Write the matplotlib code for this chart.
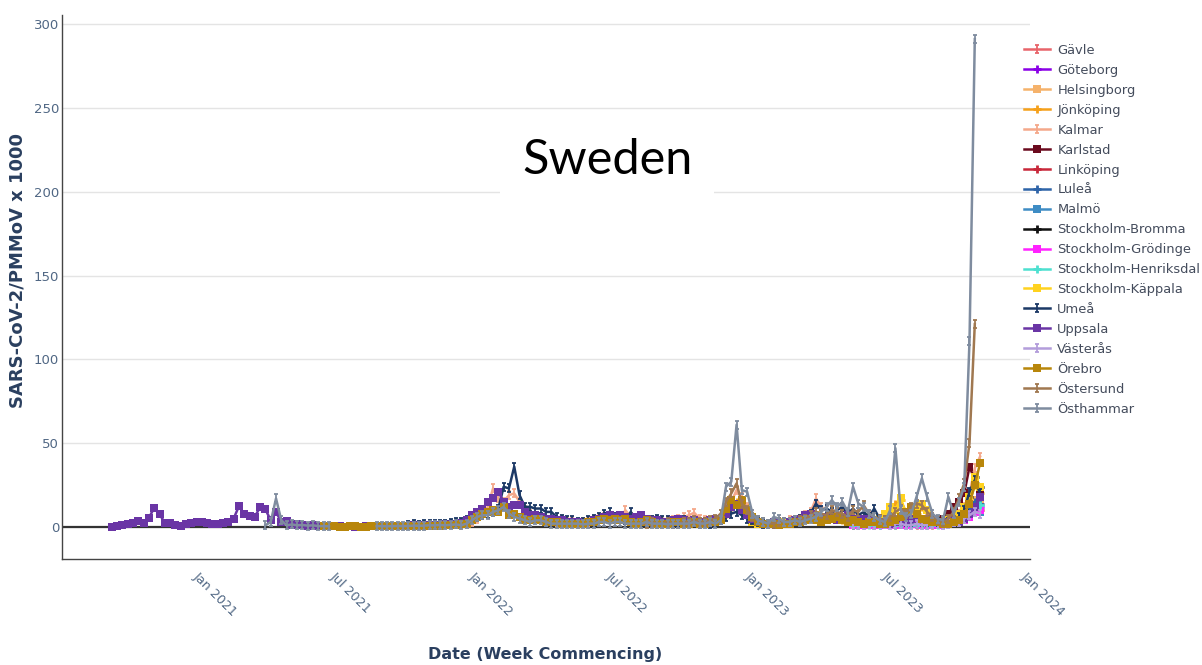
import numpy as np
import pandas as pd
import matplotlib
matplotlib.use('Agg')
import matplotlib.pyplot as plt
import matplotlib.dates as mdates
from matplotlib.path import Path

plt.rcParams['font.family'] = ['DejaVu Sans']

START = pd.Timestamp('2020-09-07')   # week index 0

# ---------------- data (weekly values, week index = weeks after START) -------------
gavle_start = 140
gavle = [2, 3, 2, 2, 3, 2, 3, 3, 2, 3, 4, 3, 2, 3, 2, 2, 3, 3, 4, 5, 6, 8, 10, 12, 11]

goteborg_start = 140
goteborg = [1, 2, 1, 2, 2, 1, 2, 2, 3, 2, 2, 3, 2, 2, 1, 2, 2, 3, 3, 4, 5, 6, 9, 14, 12]

helsingborg_start = 140
helsingborg = [2, 2, 3, 3, 2, 3, 2, 3, 3, 4, 3, 3, 2, 2, 3, 3, 2, 3, 4, 4, 6, 8, 11, 16, 13]

jonkoping_start = 110
jonkoping = [3, 3, 4, 3, 4, 5, 8, 12, 15, 14, 12, 6, 3, 2, 2, 2, 3, 3, 3, 4, 5, 5, 6, 5, 4,
             5, 6, 5, 4, 5, 3, 3, 3, 4, 4, 5, 7, 10, 14, 16, 9, 6, 8, 12, 10, 6, 4, 3, 4, 5,
             7, 10, 15, 25, 20]

kalmar_start = 66
kalmar = [1, 2, 3, 5, 8, 12, 23, 17, 15, 19, 20, 15, 10, 8, 6, 5, 4, 4, 3, 3, 3,
          3, 2, 3, 3, 4, 5, 6, 5, 6, 5, 10, 6, 5, 4, 3, 4, 3, 3, 4, 4, 5, 6, 7, 8.5,
          5, 4, 3, 3, 4, 10, 15, 22, 18, 12,
          8, 4, 3, 2, 2, 3, 3, 4, 4, 5, 7, 9, 17, 12, 10, 8, 9, 7, 6, 8, 5, 6, 7, 6, 4,
          3, 3, 4, 5, 6, 4, 3, 4, 5, 3, 2, 3, 4, 5, 8, 12, 20, 35, 42]

karlstad_start = 140
karlstad = [2, 2, 3, 2, 3, 2, 3, 3, 4, 3, 4, 5, 4, 3, 3, 2, 3, 5, 8, 12, 15, 20, 36, 28, 22]

linkoping_start = 140
linkoping = [1, 1, 2, 2, 1, 2, 2, 2, 1, 2, 2, 2, 1, 2, 2, 1, 2, 2, 3, 4, 5, 7, 9, 12, 10]

lulea_start = 140
lulea = [2, 1, 2, 2, 2, 3, 2, 2, 3, 2, 3, 2, 2, 2, 3, 2, 2, 3, 3, 5, 7, 9, 12, 15, 14]

malmo_start = 140
malmo = [1, 2, 2, 1, 2, 2, 1, 2, 2, 2, 1, 2, 2, 1, 2, 2, 2, 3, 3, 3, 4, 6, 8, 10, 9]

bromma_start = 140
bromma = [2, 2, 2, 3, 2, 2, 3, 2, 3, 3, 2, 3, 3, 2, 2, 3, 2, 2, 3, 4, 6, 10, 18, 30, 24]

grodinge_start = 140
grodinge = [1, 1, 1, 2, 1, 1, 2, 1, 2, 1, 1, 2, 2, 1, 1, 1, 1, 2, 2, 3, 3, 4, 6, 9, 10]

henriksdal_start = 140
henriksdal = [1, 1, 2, 1, 2, 1, 2, 2, 1, 2, 2, 1, 2, 1, 1, 2, 1, 2, 2, 3, 4, 5, 8, 12, 13]

kappala_start = 121
kappala = [3, 2, 2, 2, 2, 3, 3, 3, 4, 5, 5, 6, 7, 6, 5, 6, 5, 6, 4, 5, 4, 3, 3, 4, 5,
           8, 12, 10, 17, 8, 6, 12, 14, 10, 5, 3, 3, 4, 5, 8, 12, 18, 30, 24]

umea_start = 56
umea = [1, 1.5, 1, 2, 1.5, 2, 1.5, 2, 2.5, 3,
        3, 4, 5, 6, 7, 8, 9, 11, 24, 23, 36, 19, 12, 12, 11, 11, 9, 9, 6, 5, 4,
        4, 3, 3, 4, 5, 6, 8, 9, 6, 5, 4, 9, 5, 3, 3, 4, 5, 4, 4, 3, 3, 4, 3, 3, 2,
        3, 2, 3, 4, 6, 8, 9, 7, 5,
        4, 3, 2, 2, 2, 3, 3, 3, 4, 5, 6, 8, 14, 10, 11, 9, 10, 12, 8, 11, 7, 9, 6, 11,
        5, 4, 3, 2, 2, 3, 3, 2, 3, 3, 4, 3, 2, 3, 4, 6, 10, 21, 28, 20]

uppsala_start = 0
uppsala = [0.2, 0.6, 1.0, 1.6, 2.2, 3.4, 2.5, 5.5, 11.5, 7.5, 2.6, 2.4, 1.2, 0.8, 1.5,
           2.2, 2.8, 3.0, 2.2, 2.0, 1.6, 2.2, 3.2, 5.0, 12.5, 7.5, 6.8, 6.0, 12.0, 10.5,
           4.0, 9.0, 3.0, 3.5, 1.0,
           1.5, 1.0, 0.5, 1.2, 0.8, 0.5, 0.4, 0.3, 0.3, 0.2, 0.3, 0.2, 0.2, 0.3, 0.4,
           0.3, 0.5, 0.4, 0.6, 0.5, 0.7, 0.8, 1.0, 0.9, 1.2, 1.0, 1.4, 1.2, 1.5, 1.8, 2.0,
           2.5, 4, 7, 9, 11, 15, 17, 21, 15, 12, 13, 13, 9, 7, 7, 6, 5, 5, 4, 4, 3,
           3, 3, 2.5, 3, 4, 5, 6, 7, 6, 7, 6, 5, 6, 7, 5, 4, 4, 3, 3, 4, 5, 4, 3, 4, 3,
           3, 4, 5, 5, 8, 12, 14, 10, 7,
           5, 3, 2, 2, 3, 2, 2, 3, 4, 5, 7, 8, 6, 5, 6, 5, 4, 6, 7, 5, 4, 5, 4, 3, 3,
           2, 2, 3, 4, 3, 5, 6, 4, 5, 4, 3, 2, 3, 4, 3, 5, 8, 12, 18]

vasteras_start = 140
vasteras = [2, 1, 1, 2, 1, 2, 2, 1, 2, 2, 1, 1, 2, 1, 1, 2, 2, 1, 2, 3, 3, 5, 7, 9, 8]

orebro_start = 40
orebro = [0.3, 0.3, 0.3, 0.2, 0.2, 0.3, 0.3, 0.2, 0.2, 0.3, 0.3, 0.4, 0.3, 0.3, 0.4,
          0.5, 0.5, 0.4, 0.6, 0.5, 0.6, 0.8, 0.7, 0.9, 1.0, 1.2,
          1.5, 2, 4, 6, 8, 9, 10, 9, 12, 7, 8, 6, 4, 4, 5, 4, 3, 3, 3, 2, 2,
          2, 2, 2, 3, 3, 4, 5, 4, 5, 4, 5, 3, 2, 3, 4, 3, 2, 2, 2, 3, 3, 2, 2, 3, 2,
          2, 3, 3, 4, 11, 16, 13, 16, 10,
          6, 3, 2, 2, 2, 1, 2, 2, 3, 3, 4, 5, 4, 3, 4, 5, 6, 4, 3, 4, 3, 2, 3, 3, 2,
          2, 3, 4, 6, 9, 12, 8, 5, 4, 3, 3, 2, 2, 3, 4, 8, 14, 25, 38]

ostersund_start = 100
ostersund = [2, 2, 3, 2, 2, 3, 2, 2, 3, 3, 4, 3, 3, 4, 5, 8, 15, 20, 26, 14, 10,
             6, 4, 3, 2, 2, 3, 3, 3, 4, 4, 5, 7, 9, 8, 7, 10, 9, 8, 6, 10, 9, 13, 8, 6,
             5, 4, 6, 9, 11, 8, 12, 14, 13, 9, 6, 4, 3, 5, 9, 17, 26, 50, 121]

osthammar_start = 29
osthammar = [1, 3, 17, 4, 1, 1.5, 1, 1.2, 0.8, 1, 0.5, 0.5, 0.4,
             None, None, None, None, None, None, None, None,
             0.5, 0.5, 0.4, 0.5, 0.6, 0.5, 0.6, 0.8, 0.7, 0.8, 1.0, 1.0, 1.2, 1.0, 1.3, 1.5,
             1, 2, 4, 6, 7, 7, 9, 10, 12, 8, 6, 5, 4, 3, 4, 4, 3, 2, 2, 2, 2,
             2, 2, 1.5, 2, 2, 3, 3, 2, 3, 3, 2, 2, 2, 2, 3, 2, 2, 2, 1.5, 2, 2, 2, 2, 3,
             2, 2, 3, 2, 4, 24, 27, 61, 22, 21,
             8, 4, 3, 2, 6, 5, 3, 3, 4, 3, 4, 5, 6, 9, 12, 16, 12, 15, 9, 24, 14, 12, 8,
             6, 4, 3, 10, 47, 10, 6, 8, 18, 29, 18, 8, 5, 4, 18, 8, 15, 24, 111, 291]

# ---------------- styling -------------------------------------------------------------
ibeam = Path([(-0.6, 1), (0.6, 1), (0, 1), (0, -1), (-0.6, -1), (0.6, -1)],
             [Path.MOVETO, Path.LINETO, Path.MOVETO, Path.LINETO, Path.MOVETO, Path.LINETO])

series = [
    ("Gävle", gavle_start, gavle, "#E8646A", "I"),
    ("Göteborg", goteborg_start, goteborg, "#8A00E6", "+"),
    ("Helsingborg", helsingborg_start, helsingborg, "#F5B26B", "s"),
    ("Jönköping", jonkoping_start, jonkoping, "#F5A01A", "+"),
    ("Kalmar", kalmar_start, kalmar, "#F4A88A", "I"),
    ("Karlstad", karlstad_start, karlstad, "#6B0A1E", "s"),
    ("Linköping", linkoping_start, linkoping, "#C8283A", "+"),
    ("Luleå", lulea_start, lulea, "#2E64A8", "+"),
    ("Malmö", malmo_start, malmo, "#3E8CC4", "s"),
    ("Stockholm-Bromma", bromma_start, bromma, "#111111", "+"),
    ("Stockholm-Grödinge", grodinge_start, grodinge, "#FF22FF", "s"),
    ("Stockholm-Henriksdal", henriksdal_start, henriksdal, "#4DE0D0", "+"),
    ("Stockholm-Käppala", kappala_start, kappala, "#FFD21F", "s"),
    ("Umeå", umea_start, umea, "#1C3966", "I"),
    ("Uppsala", uppsala_start, uppsala, "#6A35A5", "s"),
    ("Västerås", vasteras_start, vasteras, "#B39DDB", "I"),
    ("Örebro", orebro_start, orebro, "#B8860B", "s"),
    ("Östersund", ostersund_start, ostersund, "#A07850", "I"),
    ("Östhammar", osthammar_start, osthammar, "#7F8C9F", "I"),
]

W, H = 1202, 665
fig = plt.figure(figsize=(W / 100, H / 100), dpi=100)
ax = fig.add_axes([62 / W, 1 - 559 / H, (1030 - 62) / W, (559 - 15) / H])

for name, st, vals, col, mk in series:
    y = np.array(vals, dtype=float)
    dates = START + pd.to_timedelta(7 * (st + np.arange(len(y))), unit='D')
    kw = dict(color=col, lw=1.8, label=name, zorder=3)
    if mk == "I":
        kw.update(marker=ibeam, ms=5.5, mew=1.3, mfc='none', mec=col)
    elif mk == "s":
        kw.update(marker='s', ms=5.2, mew=0, mfc=col)
    else:
        kw.update(marker='+', ms=6, mew=2.0, mec=col)
    ax.plot(dates, y, **kw)

ax.axhline(0, color='#333333', lw=1.6, zorder=2)

ax.set_ylim(-19.1, 305.4)
ax.set_xlim(pd.Timestamp('2020-07-03'), pd.Timestamp('2024-01-04'))
ax.set_yticks([0, 50, 100, 150, 200, 250, 300])
ax.yaxis.grid(True, color='#e4e4e4', lw=1)
ax.set_axisbelow(True)
ax.xaxis.set_major_locator(mdates.MonthLocator(bymonth=[1, 7]))
ax.xaxis.set_major_formatter(mdates.DateFormatter('%b %Y'))

for s in ['top', 'right']:
    ax.spines[s].set_visible(False)
for s in ['left', 'bottom']:
    ax.spines[s].set_color('#444444')
    ax.spines[s].set_linewidth(1.0)

ax.tick_params(axis='y', length=0, pad=2, labelsize=9.5, labelcolor='#506784')
ax.tick_params(axis='x', length=0, pad=8, labelsize=9.2, labelcolor='#506784')
for lbl in ax.get_xticklabels():
    lbl.set_rotation(-45)
    lbl.set_ha('left')
    lbl.set_va('top')
    lbl.set_rotation_mode('anchor')

fig.text(18 / W, 1 - 271 / H, 'SARS-CoV-2/PMMoV x 1000', rotation=90, ha='center',
         va='center', fontsize=13, fontweight='bold', color='#2a3f5f')
fig.text(545 / W, 1 - 655 / H, 'Date (Week Commencing)', ha='center', va='center',
         fontsize=11.5, fontweight='bold', color='#2a3f5f')

fig.text(607 / W, 1 - 160 / H, 'Sweden', ha='center', va='center', fontsize=35,
         family=['Lato', 'DejaVu Sans'], color='black',
         bbox=dict(facecolor='white', edgecolor='none', pad=16))

handles, labels = ax.get_legend_handles_labels()
fig.legend(handles, labels, loc='upper left', bbox_to_anchor=(1024 / W, 1 - 44 / H),
           frameon=False, fontsize=9.4, handlelength=2.0, handletextpad=0.55,
           labelspacing=0.53, borderaxespad=0, borderpad=0, numpoints=1,
           labelcolor='#444c5c')

fig.savefig('out.png', dpi=100)
